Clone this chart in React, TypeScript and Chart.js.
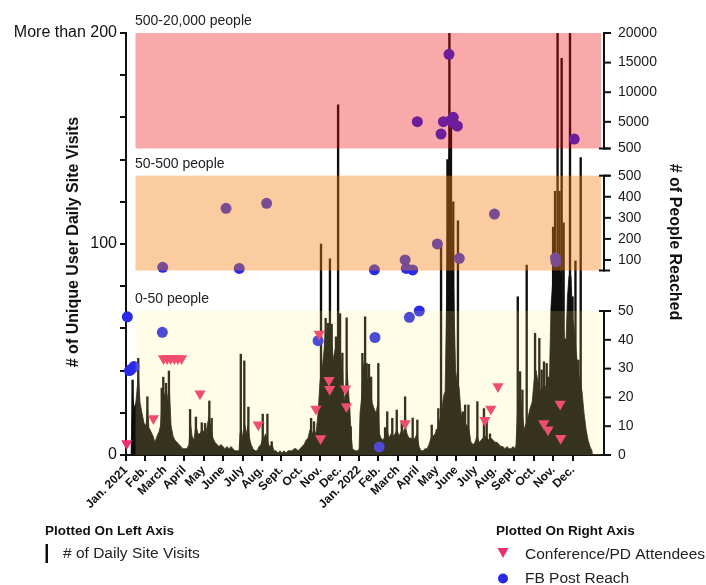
import React, { useEffect, useRef } from 'react';
import { Chart, registerables } from 'chart.js';

Chart.register(...registerables);

const FONT = "'Liberation Sans', Arial, Helvetica, sans-serif";
Chart.defaults.font.family = FONT;

// ---------- categories / tick labels ----------
const MONTH_LABELS = [
  'Jan. 2021', 'Feb.', 'March', 'April', 'May', 'June', 'July', 'Aug.', 'Sept.', 'Oct.', 'Nov.', 'Dec.',
  'Jan. 2022', 'Feb.', 'March', 'April', 'May', 'June', 'July', 'Aug.', 'Sept.', 'Oct.', 'Nov.', 'Dec.',
];
const LEFT_TICK_VALUES = [0, 10, 20, 30, 40, 50, 60, 70, 80, 90, 100, 110, 120, 130, 140, 150, 160, 170, 180, 190, 200];
const LEFT_LABELED = [0, 50, 100, 150];
const LEFT_TOP_LABEL = 'More than 200';

const RIGHT_BOTTOM_TICKS = [0, 10, 20, 30, 40, 50];
const RIGHT_MIDDLE_TICKS = [100, 200, 300, 400, 500];
const RIGHT_TOP_TICKS = [500, 5000, 10000, 15000, 20000];

// ---------- data (x = months since 1 Jan 2021) ----------
// # of daily site visits: underlying mass of daily bars
const visitsBase: [number, number][] = [
  [0.26, 0], [0.33, 30], [0.41, 22], [0.51, 25], [0.64, 38], [0.72, 25], [0.82, 20], [0.93, 15], [1.03, 14], [1.11, 22],
  [1.18, 13], [1.29, 11], [1.39, 9], [1.49, 6], [1.6, 9], [1.7, 11], [1.78, 14], [1.85, 25], [1.93, 30], [2.01, 28],
  [2.09, 30], [2.16, 26], [2.24, 30], [2.32, 14], [2.42, 9], [2.52, 7], [2.63, 6], [2.73, 5], [2.83, 4], [2.93, 3],
  [3.04, 3], [3.14, 3], [3.24, 5], [3.32, 15], [3.4, 9], [3.5, 7], [3.6, 14], [3.71, 10], [3.81, 10], [3.91, 12],
  [4.02, 11], [4.12, 10], [4.2, 15], [4.27, 18], [4.38, 12], [4.48, 8], [4.58, 6], [4.69, 5], [4.79, 4], [4.89, 5],
  [4.99, 4], [5.1, 3], [5.2, 4], [5.3, 3], [5.41, 4], [5.51, 3], [5.61, 2], [5.72, 2], [5.82, 2], [5.87, 10],
  [5.95, 12], [6.02, 8], [6.13, 14], [6.2, 10], [6.28, 14], [6.36, 8], [6.44, 5], [6.54, 3], [6.64, 2], [6.75, 2],
  [6.85, 4], [6.95, 5], [7.03, 8], [7.11, 8], [7.18, 10], [7.26, 8], [7.34, 5], [7.41, 4], [7.52, 5], [7.62, 2],
  [7.72, 2], [7.83, 1], [7.93, 2], [8.03, 1], [8.14, 2], [8.24, 1], [8.34, 2], [8.44, 2], [8.55, 2], [8.65, 3],
  [8.75, 3], [8.86, 2], [8.96, 3], [9.06, 4], [9.17, 5], [9.27, 7], [9.37, 8], [9.47, 12], [9.58, 10], [9.68, 12],
  [9.78, 10], [9.89, 20], [9.99, 35], [10.09, 40], [10.2, 50], [10.27, 60], [10.35, 55], [10.43, 58], [10.5, 55], [10.58, 55],
  [10.66, 45], [10.76, 50], [10.84, 52], [10.92, 55], [10.99, 55], [11.07, 45], [11.15, 40], [11.22, 25], [11.3, 30], [11.38, 40],
  [11.46, 30], [11.53, 20], [11.59, 10], [11.66, 3], [11.79, 2], [11.95, 2], [12.0, 3], [12.05, 20], [12.13, 27], [12.2, 40],
  [12.28, 45], [12.36, 40], [12.43, 35], [12.51, 38], [12.59, 30], [12.67, 25], [12.77, 22], [12.87, 20], [12.98, 25], [13.05, 10],
  [13.13, 8], [13.23, 7], [13.34, 9], [13.44, 12], [13.54, 8], [13.64, 10], [13.75, 9], [13.85, 10], [13.95, 12], [14.06, 9],
  [14.16, 11], [14.26, 10], [14.37, 14], [14.47, 10], [14.57, 8], [14.67, 8], [14.78, 7], [14.88, 8], [14.98, 10], [15.09, 4],
  [15.19, 2], [15.29, 2], [15.4, 3], [15.5, 3], [15.6, 5], [15.7, 8], [15.81, 9], [15.91, 10], [16.01, 12], [16.12, 15],
  [16.19, 18], [16.27, 22], [16.35, 28], [16.43, 30], [16.5, 70], [16.58, 130], [16.66, 150], [16.73, 130], [16.81, 100], [16.89, 70],
  [16.97, 40], [17.04, 35], [17.15, 32], [17.25, 20], [17.35, 16], [17.46, 15], [17.56, 14], [17.66, 12], [17.76, 6], [17.87, 5],
  [17.97, 6], [18.07, 9], [18.18, 6], [18.28, 7], [18.38, 8], [18.48, 9], [18.59, 8], [18.69, 7], [18.79, 8], [18.9, 7],
  [19.0, 6], [19.1, 6], [19.21, 5], [19.31, 4], [19.41, 4], [19.51, 3], [19.62, 4], [19.72, 3], [19.82, 3], [19.93, 4],
  [20.03, 3], [20.08, 5], [20.18, 25], [20.29, 30], [20.39, 22], [20.49, 12], [20.6, 15], [20.7, 18], [20.8, 22], [20.91, 25],
  [21.01, 35], [21.11, 40], [21.21, 35], [21.32, 30], [21.42, 32], [21.52, 30], [21.63, 33], [21.73, 28], [21.81, 40], [21.88, 70],
  [21.99, 85], [22.09, 88], [22.19, 90], [22.3, 88], [22.4, 85], [22.47, 70], [22.55, 55], [22.66, 55], [22.73, 75], [22.81, 85],
  [22.91, 85], [22.99, 65], [23.07, 60], [23.17, 50], [23.27, 40], [23.38, 35], [23.48, 30], [23.58, 20], [23.69, 12], [23.79, 7],
  [23.89, 4], [23.99, 2], [24.02, 0],
];

// # of daily site visits: individual tall days (values above 200 are shown as "More than 200")
const visitsSpikes: [number, number][] = [
  [0.34, 35.5], [0.63, 45.8], [1.1, 27.6], [1.84, 31.7], [1.92, 36.9], [2.06, 34], [2.21, 39.8], [3.3, 21.6], [3.6, 18], [3.9, 15.3],
  [4.07, 15], [4.29, 25.6], [4.41, 17.4], [5.91, 47.8], [6.09, 44.6], [6.3, 22.7], [7.04, 19.4], [7.28, 19.4], [7.5, 6.3], [9.53, 17.4],
  [9.68, 15.8], [10.04, 100], [10.16, 42], [10.28, 64.8], [10.39, 62.4], [10.5, 93], [10.59, 62], [10.81, 56], [10.92, 166], [11.02, 67],
  [11.14, 48.3], [11.36, 65], [11.48, 25], [11.57, 13.4], [12.17, 48.2], [12.31, 65.5], [12.39, 43.4], [12.51, 43], [12.62, 37], [12.99, 43.4],
  [13.34, 13], [13.45, 20.5], [13.71, 17.4], [13.94, 21.3], [14.2, 16], [14.37, 27.6], [14.76, 17.5], [15.0, 16.6], [15.74, 14.2], [16.0, 12],
  [16.08, 22], [16.22, 100], [16.55, 140], [16.65, 260], [16.73, 160], [16.85, 120], [17.09, 111], [17.34, 20.5], [17.46, 23.7], [17.63, 23.7],
  [18.09, 25.3], [18.43, 22], [18.57, 16], [18.74, 10], [20.17, 75], [20.29, 39.5], [20.41, 30.8], [20.63, 90], [21.06, 57.7], [21.28, 55.3],
  [21.4, 40.3], [21.52, 44.2], [21.66, 43.4], [21.74, 36.9], [21.99, 108], [22.09, 125], [22.22, 260], [22.32, 125], [22.43, 188], [22.53, 110],
  [22.86, 260], [22.99, 75], [23.14, 92], [23.29, 45], [23.41, 141], [23.64, 10.5],
];

// Conference/PD attendees (right axis)
const attendees: [number, number][] = [
  [0.04, 4], [1.41, 12.7], [1.93, 33.5], [2.12, 33.5], [2.3, 33.5], [2.49, 33.5], [2.67, 33.5], [2.86, 33.5], [3.81, 21.3], [6.81, 10.5],
  [9.78, 16], [9.95, 42], [10.02, 5.7], [10.45, 26], [10.49, 22.8], [11.3, 23], [11.35, 16.8], [14.37, 10.9], [18.48, 12.1], [18.78, 16],
  [19.15, 23.8], [21.51, 10.9], [21.73, 8.8], [22.35, 17.7], [22.38, 5.8],
];

// FB post reach (right axis)
const fbReach: [number, number][] = [
  [0.07, 48], [0.18, 29.3], [0.28, 29.8], [0.41, 30.7], [1.87, 42.6], [1.89, 65], [5.15, 345], [5.83, 60], [7.24, 369], [9.89, 39.7],
  [12.79, 53], [12.82, 40.8], [13.04, 2.8], [14.37, 100], [14.43, 60], [14.59, 47.8], [14.76, 52.5], [15.0, 5020], [15.1, 50], [16.03, 176],
  [16.22, 2950], [16.34, 5020], [16.63, 16400], [16.73, 5300], [16.85, 5770], [16.89, 4640], [17.06, 4300], [17.16, 108], [18.97, 318], [22.11, 110],
  [22.14, 92], [23.08, 2100],
];

// ---------- styling / layout ----------
const AXIS = '#111111';
const BAR = '#0e0e0e';
const PINK = '#ee2d6e';
const BLUE = '#2a2ae8';
const X_MAX = 24.61;

const RIGHT_SEGMENTS = [
  { id: 'yR0', min: 0, max: 50, ticks: RIGHT_BOTTOM_TICKS, frac: [0, 0.3412], color: 'rgba(255, 238, 110, 0.17)', label: '0-50 people' },
  { id: 'yR1', min: 50, max: 500, ticks: RIGHT_MIDDLE_TICKS, frac: [0.4372, 0.6619], color: 'rgba(242, 127, 18, 0.4)', label: '50-500 people' },
  { id: 'yR2', min: 500, max: 20000, ticks: RIGHT_TOP_TICKS, frac: [0.7263, 1], color: 'rgba(238, 9, 9, 0.35)', label: '500-20,000 people' },
];

function segRange(i: number) {
  const s = RIGHT_SEGMENTS[i];
  const [f0, f1] = s.frac;
  const span = (s.max - s.min) / (f1 - f0);
  return { min: s.min - span * f0, max: s.max + span * (1 - f1) };
}

function segIndex(v: number) {
  if (v <= 50) return 0;
  if (v <= 500) return 1;
  return 2;
}

const toXY = (arr: [number, number][]) => arr.map(([x, y]) => ({ x, y }));

const overlayPlugin = {
  id: 'overlay',
  afterDatasetsDraw(chart: any) {
    const { ctx, chartArea: ca } = chart;
    ctx.save();
    const x0 = ca.left + 9.5;
    const x1 = ca.right - 3;
    RIGHT_SEGMENTS.forEach((seg) => {
      const sc = chart.scales[seg.id];
      const yT = sc.getPixelForValue(seg.max);
      const yB = sc.getPixelForValue(seg.min);
      ctx.fillStyle = seg.color;
      ctx.fillRect(x0, yT, x1 - x0, yB - yT);
    });
    ctx.restore();
  },
  afterDraw(chart: any) {
    const { ctx, chartArea: ca } = chart;
    ctx.save();
    const xr = ca.right;
    const hline = (a: number, b: number, y: number) => {
      ctx.beginPath();
      ctx.moveTo(a, y);
      ctx.lineTo(b, y);
      ctx.stroke();
    };
    // broken right axis
    ctx.strokeStyle = AXIS;
    ctx.fillStyle = '#1a1a1a';
    ctx.lineWidth = 2;
    ctx.font = `14px ${FONT}`;
    ctx.textAlign = 'left';
    ctx.textBaseline = 'middle';
    RIGHT_SEGMENTS.forEach((seg, i) => {
      const sc = chart.scales[seg.id];
      const yT = sc.getPixelForValue(seg.max);
      const yB = sc.getPixelForValue(seg.min);
      ctx.beginPath();
      ctx.moveTo(xr, yT - 1);
      ctx.lineTo(xr, yB + 1);
      ctx.stroke();
      if (i > 0) hline(xr - 5, xr + 6, yB);
      if (i < 2) hline(xr - 5, xr + 6, yT);
      seg.ticks.forEach((t) => {
        const y = sc.getPixelForValue(t);
        hline(xr, xr + 7, y);
        ctx.fillText(String(t), xr + 14, y);
      });
    });

    // band labels
    ctx.font = `14px ${FONT}`;
    ctx.fillStyle = '#222';
    ctx.textBaseline = 'middle';
    RIGHT_SEGMENTS.forEach((seg) => {
      const sc = chart.scales[seg.id];
      const yT = sc.getPixelForValue(seg.max);
      ctx.fillText(seg.label, ca.left + 9, yT - 12);
    });

    // axis titles
    ctx.font = `bold 16px ${FONT}`;
    ctx.fillStyle = '#111';
    ctx.textAlign = 'center';
    ctx.save();
    ctx.translate(74, 242);
    ctx.rotate(-Math.PI / 2);
    ctx.fillText('# of Unique User Daily Site Visits', 0, 0);
    ctx.restore();
    ctx.save();
    ctx.translate(674, 242);
    ctx.rotate(Math.PI / 2);
    ctx.fillText('# of People Reached', 0, 0);
    ctx.restore();

    // legend
    ctx.textAlign = 'left';
    ctx.fillStyle = '#111';
    ctx.font = `bold 13.5px ${FONT}`;
    ctx.fillText('Plotted On Left Axis', 45, 531);
    ctx.fillText('Plotted On Right Axis', 496, 531);
    ctx.font = `15.5px ${FONT}`;
    ctx.fillStyle = '#222';
    ctx.fillText('# of Daily Site Visits', 63, 554);
    ctx.fillText('Conference/PD Attendees', 525, 555);
    ctx.fillText('FB Post Reach', 525, 579);
    ctx.fillStyle = BAR;
    ctx.fillRect(45.5, 544, 2.5, 19);
    ctx.fillStyle = PINK;
    ctx.beginPath();
    ctx.moveTo(497.5, 548);
    ctx.lineTo(508.5, 548);
    ctx.lineTo(503, 558);
    ctx.closePath();
    ctx.fill();
    ctx.fillStyle = BLUE;
    ctx.beginPath();
    ctx.arc(503, 578.5, 5, 0, Math.PI * 2);
    ctx.fill();
    ctx.restore();
  },
};

function buildConfig(): any {
  const fbSets = RIGHT_SEGMENTS.map((seg, i) => ({
    type: 'line',
    label: 'FB Post Reach',
    data: toXY(fbReach.filter(([, v]) => segIndex(v) === i)),
    yAxisID: seg.id,
    showLine: false,
    pointStyle: 'circle',
    pointRadius: 5.5,
    pointBackgroundColor: BLUE,
    pointBorderWidth: 0,
    pointBorderColor: BLUE,
    clip: false,
    order: 1,
  }));

  const tickGrid = {
    display: true,
    drawOnChartArea: false,
    drawTicks: true,
    tickLength: 6,
    color: AXIS,
    lineWidth: 2,
    offset: false,
  };

  return {
    type: 'line',
    data: {
      datasets: [
        {
          type: 'line',
          label: 'Conference/PD Attendees',
          data: toXY(attendees),
          yAxisID: 'yR0',
          showLine: false,
          pointStyle: 'triangle',
          rotation: 180,
          pointRadius: 6.5,
          pointBackgroundColor: PINK,
          pointBorderColor: PINK,
          pointBorderWidth: 0,
          clip: false,
          order: 0,
        },
        ...fbSets,
        {
          type: 'bar',
          label: '# of Daily Site Visits',
          data: toXY(visitsSpikes),
          yAxisID: 'y',
          backgroundColor: BAR,
          borderWidth: 0,
          barThickness: 1.7,
          clip: 0,
          order: 2,
        },
        {
          type: 'line',
          label: '# of Daily Site Visits (daily mass)',
          data: toXY(visitsBase),
          yAxisID: 'y',
          fill: 'origin',
          backgroundColor: BAR,
          borderColor: BAR,
          borderWidth: 0.8,
          pointRadius: 0,
          tension: 0,
          clip: 0,
          order: 3,
        },
      ],
    },
    options: {
      responsive: false,
      animation: false,
      devicePixelRatio: 1,
      layout: { padding: { top: 33, right: 102, left: 0, bottom: 0 } },
      plugins: { legend: { display: false }, tooltip: { enabled: false } },
      scales: {
        x: {
          type: 'linear',
          position: 'bottom',
          min: 0,
          max: X_MAX,
          offset: false,
          afterBuildTicks: (s: any) => {
            s.ticks = MONTH_LABELS.map((_, i) => ({ value: i }));
          },
          afterFit: (s: any) => {
            s.height = 130;
          },
          ticks: {
            autoSkip: false,
            minRotation: 45,
            maxRotation: 45,
            color: '#111',
            padding: 2,
            font: { size: 12, weight: 'bold' },
            callback: (v: number) => MONTH_LABELS[Math.round(v)] ?? '',
          },
          grid: tickGrid,
          border: { display: true, color: AXIS, width: 2 },
        },
        y: {
          type: 'linear',
          position: 'left',
          min: 0,
          max: 200,
          afterBuildTicks: (s: any) => {
            s.ticks = LEFT_TICK_VALUES.map((v) => ({ value: v }));
          },
          afterFit: (s: any) => {
            s.width = 126;
          },
          ticks: {
            color: '#111',
            padding: 3,
            font: { size: 16 },
            callback: (v: number) => (v === 200 ? LEFT_TOP_LABEL : LEFT_LABELED.includes(v) ? String(v) : ''),
          },
          grid: tickGrid,
          border: { display: true, color: AXIS, width: 2 },
        },
        yR0: { type: 'linear', display: false, position: 'right', ...segRange(0) },
        yR1: { type: 'linear', display: false, position: 'right', ...segRange(1) },
        yR2: { type: 'linear', display: false, position: 'right', ...segRange(2) },
      },
    },
    plugins: [overlayPlugin],
  };
}

export default function App() {
  const ref = useRef<HTMLCanvasElement>(null);
  useEffect(() => {
    document.body.style.margin = '0';
    const chart = new Chart(ref.current as HTMLCanvasElement, buildConfig());
    return () => chart.destroy();
  }, []);
  return (
    <div style={{ width: 706, height: 585, background: '#fff' }}>
      <canvas ref={ref} width={706} height={585} style={{ display: 'block' }} />
    </div>
  );
}
